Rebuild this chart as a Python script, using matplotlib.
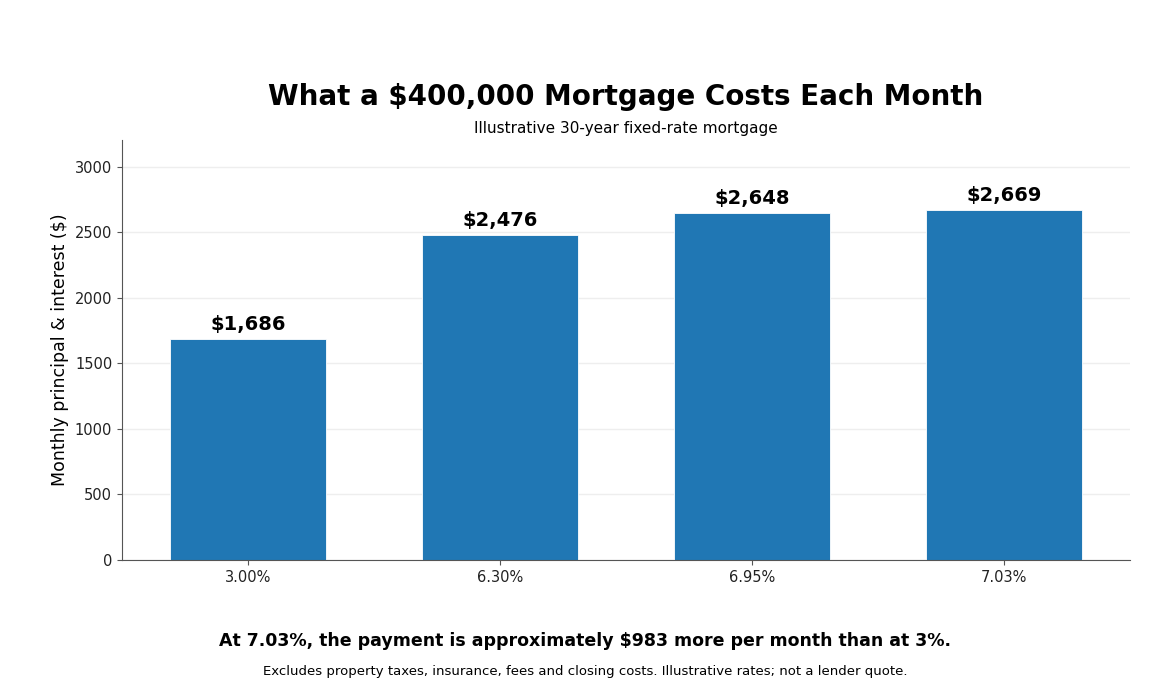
import numpy as np
import matplotlib.pyplot as plt

plt.rcParams['font.family'] = ['DejaVu Sans']

rates = ["3.00%", "6.30%", "6.95%", "7.03%"]
payments = [1686, 2476, 2648, 2669]

fig = plt.figure(figsize=(11.7, 7), dpi=100)
ax = fig.add_axes([122/1170, 1-560/700, (1130-122)/1170, (560-140)/700])

x = np.arange(len(rates))
ax.bar(x, payments, width=0.62, color="#2077b4", edgecolor="white", linewidth=0.6, zorder=2)
for xi, v in zip(x, payments):
    ax.text(xi, v + 40, f"${v:,}", ha="center", va="bottom", fontsize=14, fontweight="bold")

ax.set_xlim(-0.5, 3.5)
ax.set_ylim(0, max(payments) * 1.2)
ax.set_xticks(x)
ax.set_xticklabels(rates, fontsize=10.5)
ax.tick_params(axis="y", labelsize=10.5)
ax.tick_params(axis="both", color="#555555", labelcolor="#222222")
ax.set_ylabel("Monthly principal & interest ($)", fontsize=12.5)
ax.yaxis.grid(True, color="#eeeeee", linewidth=1, zorder=0)
ax.set_axisbelow(True)
ax.spines["top"].set_visible(False)
ax.spines["right"].set_visible(False)
for s in ["left", "bottom"]:
    ax.spines[s].set_color("#555555")

fig.text(626/1170, 1-97/700, "What a $400,000 Mortgage Costs Each Month",
         ha="center", va="center", fontsize=20, fontweight="bold")
fig.text(626/1170, 1-128/700, "Illustrative 30-year fixed-rate mortgage",
         ha="center", va="center", fontsize=11)
fig.text(585/1170, 1-641/700,
         "At 7.03%, the payment is approximately $983 more per month than at 3%.",
         ha="center", va="center", fontsize=12.5, fontweight="bold")
fig.text(585/1170, 1-671/700,
         "Excludes property taxes, insurance, fees and closing costs. Illustrative rates; not a lender quote.",
         ha="center", va="center", fontsize=9.5)

fig.savefig("out.png", dpi=100)
